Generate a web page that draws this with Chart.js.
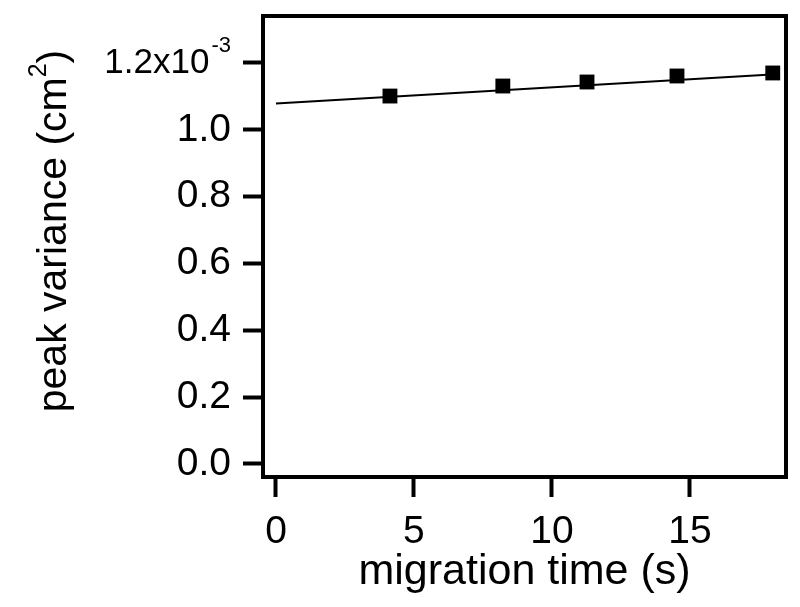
<!DOCTYPE html>
<html>
<head>
<meta charset="utf-8">
<script src="https://cdn.jsdelivr.net/npm/chart.js@4"></script>
<style>
  html, body { margin: 0; padding: 0; background: #fff; }
  #wrap { width: 800px; height: 607px; }
</style>
</head>
<body>
<div id="wrap"><canvas id="varChart"></canvas></div>
<script>
// measured points (migration time in s, peak variance in cm^2)
var migrationTime = [4.13, 8.22, 11.27, 14.53, 18.0];
var peakVariance = [1.101e-3, 1.131e-3, 1.143e-3, 1.161e-3, 1.170e-3];

// linear fit, ends
var fitTime = [0, 18.26];
var fitVariance = [1.079e-3, 1.167e-3];

var xTicks = [0, 5, 10, 15];
var yTicks = [0, 0.2e-3, 0.4e-3, 0.6e-3, 0.8e-3, 1.0e-3, 1.2e-3];

var FONT = "'Liberation Sans', Arial, sans-serif";

function toPoints(xs, ys) {
    return xs.map((x, i) => ({ x: x, y: ys[i] }));
}

// box around the plot, the "1.2x10^-3" label and the y title with superscripts
var framePlugin = {
    id: 'frame',
    afterDraw(chart) {
        var ctx = chart.ctx;
        var a = chart.chartArea;
        ctx.save();
        ctx.strokeStyle = '#000';
        ctx.lineWidth = 4;
        ctx.strokeRect(a.left, a.top, a.right - a.left, a.bottom - a.top);

        // top tick label
        var yScale = chart.scales.y;
        var top = yTicks[yTicks.length - 1];
        var py = yScale.getPixelForValue(top);
        var right = a.left - 20 - 12;
        ctx.fillStyle = '#000';
        ctx.textBaseline = 'middle';
        ctx.textAlign = 'right';
        ctx.font = '22px ' + FONT;
        var sup = '-3';
        var supW = ctx.measureText(sup).width;
        ctx.fillText(sup, right, py - 17);
        ctx.font = '35px ' + FONT;
        ctx.fillText((top * 1e3).toFixed(1) + 'x10', right - supW - 2, py);

        // y title, rotated
        var main = 'peak variance (cm';
        var two = '2';
        var close = ')';
        ctx.font = '41px ' + FONT;
        var wMain = ctx.measureText(main).width;
        var wClose = ctx.measureText(close).width;
        ctx.font = '25px ' + FONT;
        var wTwo = ctx.measureText(two).width;
        var total = wMain + wTwo + wClose;
        ctx.translate(55, 231);
        ctx.rotate(-Math.PI / 2);
        ctx.textAlign = 'left';
        ctx.textBaseline = 'middle';
        var x0 = -total / 2;
        ctx.font = '41px ' + FONT;
        ctx.fillText(main, x0, 0);
        ctx.font = '25px ' + FONT;
        ctx.fillText(two, x0 + wMain, -16);
        ctx.font = '41px ' + FONT;
        ctx.fillText(close, x0 + wMain + wTwo, 0);
        ctx.restore();
    }
};

new Chart(document.getElementById('varChart').getContext('2d'), {
    type: 'scatter',
    data: {
        datasets: [
            {
                label: 'fit',
                data: toPoints(fitTime, fitVariance),
                showLine: true,
                borderColor: '#000',
                borderWidth: 2,
                pointRadius: 0,
                fill: false
            },
            {
                label: 'peak variance',
                data: toPoints(migrationTime, peakVariance),
                pointStyle: 'rect',
                pointRadius: 10.5,
                pointHoverRadius: 10.5,
                backgroundColor: '#000',
                borderColor: '#000',
                borderWidth: 0
            }
        ]
    },
    options: {
        responsive: true,
        maintainAspectRatio: false,
        animation: false,
        layout: { padding: { left: 0, right: 14, top: 16, bottom: 0 } },
        plugins: {
            legend: { display: false },
            tooltip: { enabled: false }
        },
        scales: {
            x: {
                type: 'linear',
                min: -0.47,
                max: 18.48,
                afterBuildTicks: (scale) => { scale.ticks = xTicks.map(v => ({ value: v })); },
                afterFit: (scale) => {
                    scale.height = 130;
                    scale.paddingLeft = 0;
                    scale.paddingRight = 0;
                },
                border: { display: false },
                grid: {
                    drawOnChartArea: false,
                    drawTicks: true,
                    tickLength: 20,
                    tickWidth: 4,
                    tickColor: '#000'
                },
                ticks: {
                    color: '#000',
                    padding: 12,
                    maxRotation: 0,
                    font: { family: FONT, size: 39 }
                },
                title: {
                    display: true,
                    text: 'migration time (s)',
                    color: '#000',
                    padding: { top: 0, bottom: 9 },
                    font: { family: FONT, size: 43 }
                }
            },
            y: {
                type: 'linear',
                min: -0.039e-3,
                max: 1.3405e-3,
                afterBuildTicks: (scale) => { scale.ticks = yTicks.map(v => ({ value: v })); },
                afterFit: (scale) => {
                    scale.width = 263;
                    scale.paddingTop = 0;
                    scale.paddingBottom = 0;
                },
                border: { display: false },
                grid: {
                    drawOnChartArea: false,
                    drawTicks: true,
                    tickLength: 20,
                    tickWidth: 4,
                    tickColor: '#000'
                },
                ticks: {
                    color: '#000',
                    padding: 12,
                    font: { family: FONT, size: 39 },
                    callback: (v) => v >= 1.2e-3 - 1e-9 ? '' : (v * 1e3).toFixed(1)
                },
                title: { display: false }
            }
        }
    },
    plugins: [framePlugin]
});
</script>
</body>
</html>
